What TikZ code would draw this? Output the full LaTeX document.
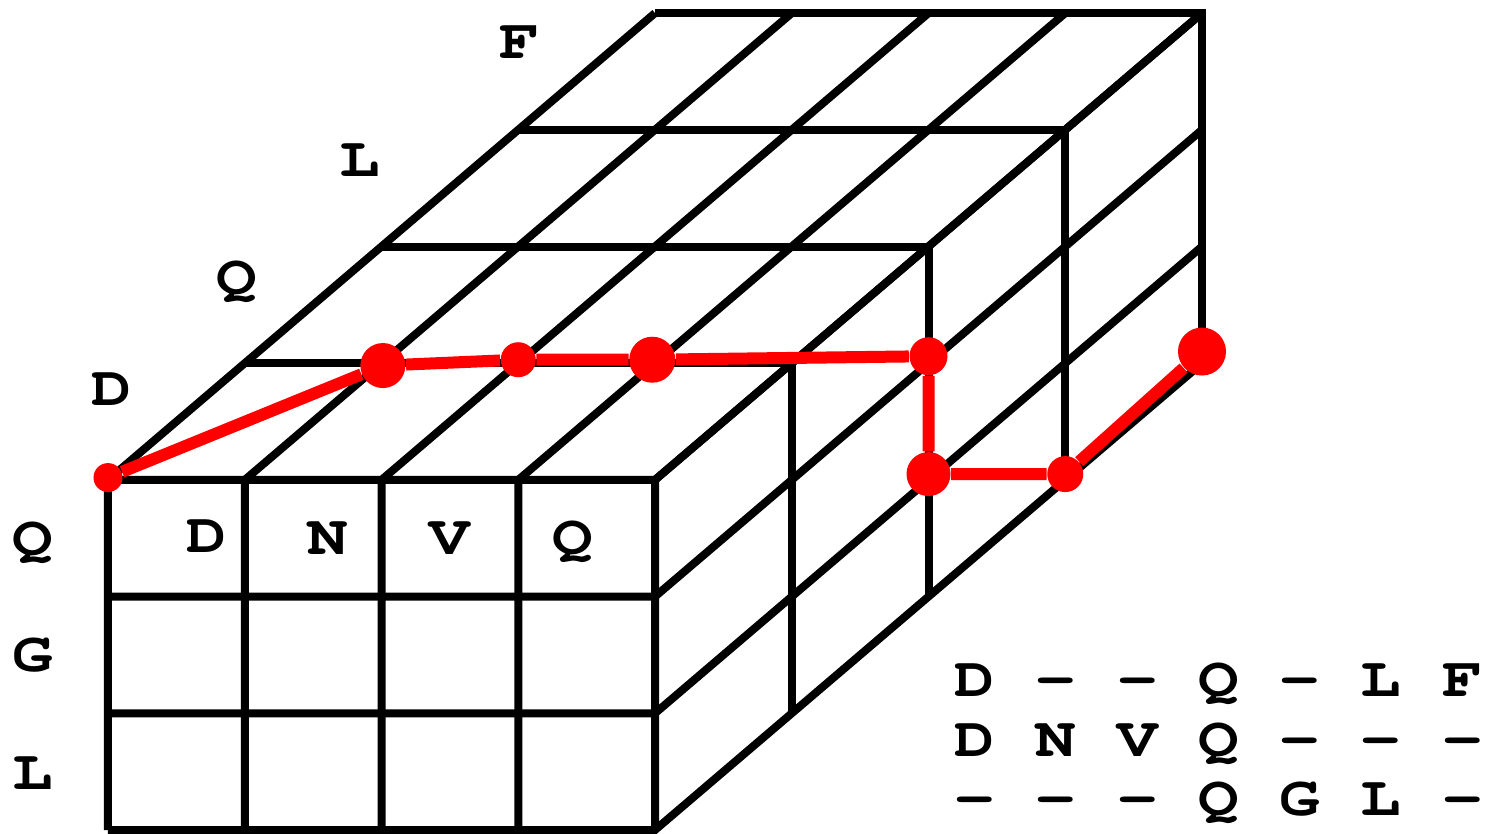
\documentclass[tikz,border=0pt]{standalone}
\usepackage{fontspec}
\newfontfamily\labfont{texgyrecursor-bold.otf}[FakeStretch=1.2]
\begin{document}
\begin{tikzpicture}[
	x=1.3675cm, y=1.167cm,
	edge/.style={ line width=0.08cm },
	lab/.style={ font=\labfont\fontsize{16}{16}\selectfont, inner sep=0pt, text height=9.2pt, text depth=0pt },
	reddot/.style={ circle, fill=red, inner sep=0pt, minimum size=#1 },
	redline/.style={ red, line width=0.12cm }
]
\useasboundingbox (-1.08cm,-0.03cm) rectangle (13.79cm,8.30cm);

\foreach \i in {0,...,4} \draw[edge] (\i,0) -- (\i,3) -- ++(4,4);
\foreach \j in {0,...,3} \draw[edge] (0,\j) -- (4,\j) -- ++(4,4);
\foreach \k in {1,...,4} \draw[edge] (\k,3+\k) -- ++(4,0) -- ++(0,-3);

\node at (0.03,3.78) (depthD) [lab] {D};
\node at (0.94,4.73) (depthQ) [lab] {Q};
\node at (1.84,5.74) (depthL) [lab] {L};
\node at (3.01,6.75) (depthF) [lab] {F};
\node at (-0.55,2.49) (rowQ) [lab] {Q};
\node at (-0.55,1.50) (rowG) [lab] {G};
\node at (-0.55,0.49) (rowL) [lab] {L};
\node at (0.72,2.52) (colD) [lab] {D};
\node at (1.61,2.50) (colN) [lab] {N};
\node at (2.50,2.50) (colV) [lab] {V};
\node at (3.40,2.50) (colQ) [lab] {Q};

\foreach \row [count=\r] in {{D,–,–,Q,–,L,F},{D,N,V,Q,–,–,–},{–,–,–,Q,G,L,–}}
	\foreach \ch [count=\c] in \row
		\node at ({6.34+(\c-1)*0.594},{1.79-\r*0.51}) (tab\r\c) [lab] {\ch};

\node at (0,3.02) (s0) [reddot=0.29cm] {};
\node at (2.01,3.98) (s1) [reddot=0.45cm] {};
\node at (3,4.03) (s2) [reddot=0.35cm] {};
\node at (3.98,4.03) (s3) [reddot=0.46cm] {};
\node at (6,4.06) (s4) [reddot=0.38cm] {};
\node at (6,3.05) (s5) [reddot=0.44cm] {};
\node at (7,3.05) (s6) [reddot=0.36cm] {};
\node at (8,4.10) (s7) [reddot=0.48cm] {};
\draw[redline] (s0) -- (s1) -- (s2) -- (s3) -- (s4) -- (s5) -- (s6) -- (s7);

\end{tikzpicture}
\end{document}
